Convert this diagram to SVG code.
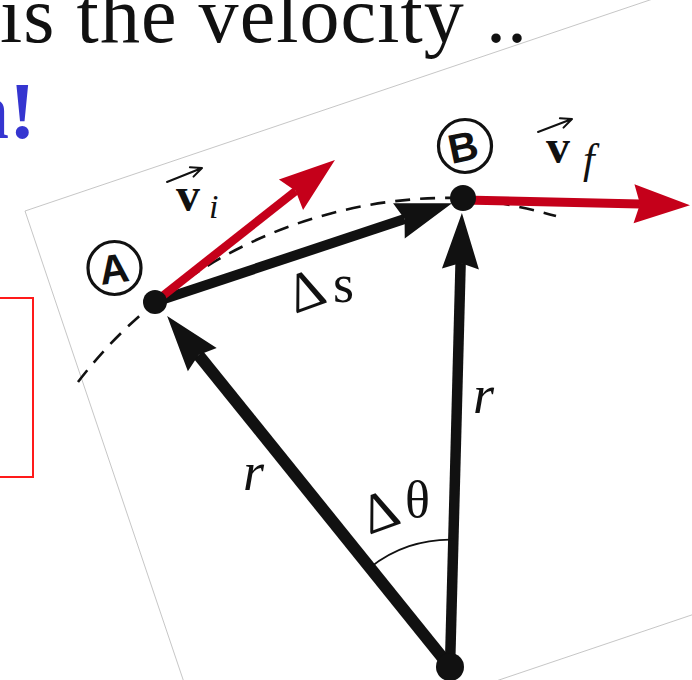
<svg xmlns="http://www.w3.org/2000/svg" width="692" height="680" viewBox="0 0 692 680">
<style>
  .serif{font-family:"Liberation Serif","Times New Roman",serif}
  .sans{font-family:"Liberation Sans",Arial,sans-serif}
  .shaftK{fill:none;stroke:#111;stroke-linecap:butt;marker-end:url(#headK)}
  .shaftR{fill:none;stroke:#c5001a;stroke-linecap:butt;marker-end:url(#headR)}
  .dot{fill:#111}
  .ring{fill:none;stroke:#111;stroke-width:3.2}
  .accent{fill:none;stroke:#111;stroke-width:2;stroke-linecap:round;stroke-linejoin:round}
  .lbl{fill:#111}
</style>
<defs>
  <marker id="headK" viewBox="-7 -20 59 40" refX="0" refY="0" markerWidth="59" markerHeight="40" markerUnits="userSpaceOnUse" orient="auto">
    <path d="M50,0 L-6,-18.5 L0,0 L-6,18.5 Z" fill="#111"/>
  </marker>
  <marker id="headR" viewBox="-7 -21 59 42" refX="0" refY="0" markerWidth="59" markerHeight="42" markerUnits="userSpaceOnUse" orient="auto">
    <path d="M50,0 L-6,-19.5 L0,0 L-6,19.5 Z" fill="#c5001a"/>
  </marker>
</defs>
<rect width="692" height="680" fill="#ffffff"/>

<!-- faint border of the rotated picture -->
<path d="M783,-45 L25,211 L215.5,775.7 L973,520" fill="none" stroke="#b8b8b8" stroke-width="0.8"/>

<!-- slide text -->
<text class="serif" x="0" y="42" font-size="80" textLength="527" lengthAdjust="spacing" fill="#111">is the velocity ..</text>
<text class="serif" x="-35.5" y="138" font-size="80" font-weight="bold" fill="#3535d0">n!</text>
<rect x="-10" y="298" width="43" height="179" fill="none" stroke="#ff1a1a" stroke-width="2"/>

<!-- connectors -->
<g id="connectors">
  <path d="M78,382 A469,469 0 0 1 463,198 Q510,203 556,216" fill="none" stroke="#111" stroke-width="2.6" stroke-dasharray="15 10"/>
  <path d="M450,667 L198.5,354.9" class="shaftK" stroke-width="12"/>
  <path d="M450,667 L460.6,263" class="shaftK" stroke-width="10.5"/>
  <path d="M155,302 L404.6,219" class="shaftK" stroke-width="10"/>
  <path d="M155,302 L295.7,191" class="shaftR" stroke-width="8.5"/>
  <path d="M463,200 L640,204" class="shaftR" stroke-width="9"/>
  <path d="M369.8,567.8 A127.5,127.5 0 0 1 453.5,539.6" fill="none" stroke="#111" stroke-width="1.8"/>
</g>

<!-- nodes -->
<g id="node-A">
  <circle class="dot" cx="155" cy="302" r="12"/>
  <circle class="ring" cx="114.5" cy="268" r="26.5"/>
  <text class="sans lbl" x="0" y="0" font-size="41" font-weight="bold" text-anchor="middle" transform="translate(116,283) rotate(-8)">A</text>
</g>
<g id="node-B">
  <circle class="dot" cx="463" cy="198" r="13"/>
  <circle class="ring" cx="465" cy="146" r="26.5"/>
  <text class="sans lbl" x="0" y="0" font-size="41" font-weight="bold" text-anchor="middle" transform="translate(466,161) rotate(-12)">B</text>
</g>
<g id="node-O">
  <circle class="dot" cx="450" cy="667" r="14"/>
</g>

<!-- labels -->
<g id="label-vi">
  <text class="serif lbl" x="176" y="211" font-size="48" font-weight="bold">v</text>
  <text class="serif lbl" x="209" y="218" font-size="34" font-style="italic">i</text>
  <path class="accent" d="M167,182 L202,168 M189.9,167.2 L202,168 L193.5,176.6"/>
</g>
<g id="label-vf">
  <text class="serif lbl" x="546" y="163" font-size="48" font-weight="bold">v</text>
  <text class="serif lbl" x="583" y="173" font-size="42" font-style="italic">f</text>
  <path class="accent" d="M538,132 L572,119 M559.9,118.2 L572,119 L563.5,127.6"/>
</g>
<g id="label-ds">
  <text class="serif lbl" x="0" y="0" font-size="56" transform="translate(295,314) rotate(-20)">Δ</text>
  <text class="serif lbl" x="333" y="302" font-size="54">s</text>
</g>
<g id="label-dtheta">
  <text class="serif lbl" x="0" y="0" font-size="56" transform="translate(369,535) rotate(-20)">Δ</text>
  <text class="serif lbl" x="405" y="517" font-size="52">θ</text>
</g>
<text class="serif lbl" x="243" y="490" font-size="54" font-style="italic">r</text>
<text class="serif lbl" x="473" y="413" font-size="54" font-style="italic">r</text>
</svg>
